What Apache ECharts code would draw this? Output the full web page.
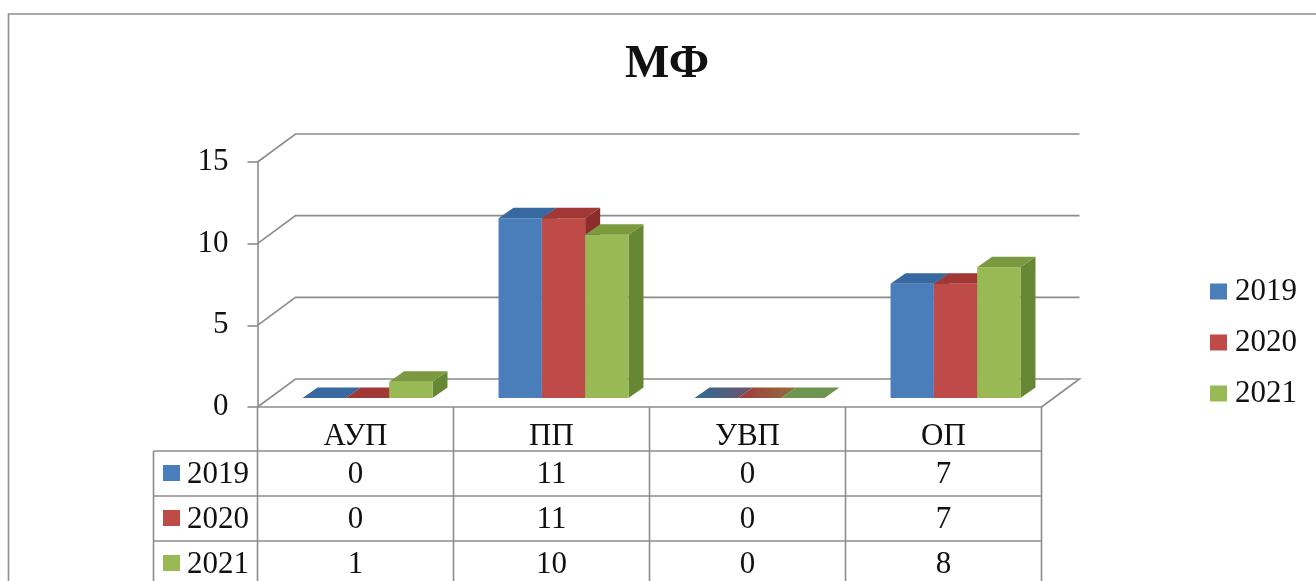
<!DOCTYPE html>
<html><head><meta charset="utf-8">
<style>html,body{margin:0;padding:0;background:#fff}#c{width:1316px;height:581px}</style>
<script src="https://cdn.jsdelivr.net/npm/echarts@6/dist/echarts.min.js"></script>
</head><body><div id="c"></div>
<script>
const categories = ['АУП','ПП','УВП','ОП'];
const years = ['2019','2020','2021'];
const v2019 = [0,11,0,7];
const v2020 = [0,11,0,7];
const v2021 = [1,10,0,8];
const yTicks = [0,5,10,15];
const seriesValues = [v2019,v2020,v2021];
const faceColors = ['#4a7ebb','#be4b48','#98b954'];
const topColors = ['#37689f','#a23836','#7b9a3f'];
const sideColors = ['#2f5a8c','#8a2d2b','#668733'];
const blendColors = ['#2f6d96','#6c5268','#a23a3a','#8f7040','#6d9550','#6d9550'];

const FONT = '"Liberation Serif","Times New Roman",serif';
const INK = '#111';
const LINE = '#8c8c8c';
const GRID = {left:257.5, top:162, width:784, height:245};
const WALL = {dx:38, dy:-28};
const BAR = {dx:12, dy:-9, depthX:15, depthY:-10.5, share:0.221};

const chart = echarts.init(document.getElementById('c'), null, {renderer:'canvas'});

function wallItem(params, api){
  const v = api.value(0);
  const y = api.coord([0, v])[1];
  const xL = GRID.left, xR = GRID.left + GRID.width;
  const pts = [[xL,y],[xL+WALL.dx,y+WALL.dy],[xR+WALL.dx,y+WALL.dy]];
  if (v === 0) pts.push([xR,y]);
  return {type:'polyline', shape:{points:pts}, style:{stroke:LINE,lineWidth:1.6,fill:null}, silent:true};
}

function barItem(s){
  return function(params, api){
    const i = api.value(0), v = api.value(1);
    const band = api.size([1,0])[0];
    const w = band*BAR.share;
    const c = api.coord([i, v]), b = api.coord([i, 0]);
    const x0 = c[0] - 1.5*w + s*w + BAR.dx, x1 = x0 + w;
    const yT = c[1] + BAR.dy, yB = b[1] + BAR.dy;
    const dx = BAR.depthX, dy = BAR.depthY;
    const poly = (pts, fill) => ({type:'polygon', shape:{points:pts}, style:{fill:fill}, silent:true});
    const children = [];
    if (v > 0) {
      children.push(poly([[x1,yT],[x1+dx,yT+dy],[x1+dx,yB+dy],[x1,yB]], sideColors[s]));
      children.push(poly([[x0,yT],[x1,yT],[x1,yB],[x0,yB]], faceColors[s]));
    }
    const allZero = seriesValues.every(a => a[i] === 0);
    const fill = allZero ? new echarts.graphic.LinearGradient(0,0,1,0,[
      {offset:0,color:blendColors[s*2]},
      {offset:1,color:blendColors[s*2+1]}
    ]) : topColors[s];
    children.push(poly([[x0,yT],[x0+dx,yT+dy],[x1+dx,yT+dy],[x1,yT]], fill));
    return {type:'group', children};
  };
}

/* data table and frame */
const tbl = {
  cols:[153.5,257.5,453.5,649.5,845.5,1041.5],
  rows:[451,496,541,586],
  rowText:[475,520,565],
};
const graphic = [];
const ln = (x1,y1,x2,y2) => graphic.push({type:'line',silent:true,z:1,shape:{x1,y1,x2,y2},style:{stroke:LINE,lineWidth:1.6}});
graphic.push({type:'polyline',silent:true,z:0,shape:{points:[[8.5,600],[8.5,14],[1320,14]]},style:{fill:null,stroke:'#8f8f8f',lineWidth:1.6}});
tbl.rows.forEach(y=>ln(153.5,y,1041.5,y));
ln(153.5,451,153.5,586);
tbl.cols.slice(1).forEach(x=>ln(x,407,x,586));
years.forEach((yr,r)=>{
  graphic.push({type:'rect',silent:true,z:2,shape:{x:163,y:tbl.rowText[r]-10,width:17,height:16},style:{fill:faceColors[r]}});
  graphic.push({type:'text',silent:true,z:2,x:187,y:tbl.rowText[r],style:{text:yr,font:'31px '+FONT,fill:INK,textAlign:'left',textVerticalAlign:'middle'}});
  seriesValues[r].forEach((v,c)=>{
    graphic.push({type:'text',silent:true,z:2,x:(tbl.cols[c+1]+tbl.cols[c+2])/2,y:tbl.rowText[r],style:{text:String(v),font:'31px '+FONT,fill:INK,textAlign:'center',textVerticalAlign:'middle'}});
  });
});

const option = {
  animation:false,
  backgroundColor:'#fff',
  textStyle:{fontFamily:FONT},
  title:{text:'МФ',left:662,top:36,textAlign:'center',textStyle:{fontFamily:FONT,fontSize:47,fontWeight:'bold',color:INK}},
  legend:{
    orient:'vertical',left:1205,top:271,icon:'rect',itemWidth:17,itemHeight:16,itemGap:20,
    selectedMode:false,data:years,
    textStyle:{fontFamily:FONT,fontSize:31,color:INK,padding:[0,0,0,3]}
  },
  grid:GRID,
  xAxis:{type:'category',data:categories,z:5,
    axisLine:{lineStyle:{color:LINE,width:1.6}},axisTick:{show:false},
    axisLabel:{margin:14,fontFamily:FONT,fontSize:31,color:INK}},
  yAxis:{type:'value',min:0,max:15,interval:5,z:5,
    splitLine:{show:false},
    axisLine:{show:true,lineStyle:{color:LINE,width:1.6}},
    axisTick:{show:true,length:10,lineStyle:{color:LINE,width:1.6}},
    axisLabel:{margin:29,fontFamily:FONT,fontSize:31,color:INK,verticalAlign:'middle',padding:[2,0,0,0],formatter:v=>yTicks.includes(v)?String(v):''}},
  graphic,
  series:[
    {type:'custom',name:'walls',coordinateSystem:'cartesian2d',z:2,silent:true,renderItem:wallItem,data:yTicks.map(v=>[v]),encode:{x:-1,y:0}},
    ...years.map((yr,s)=>({
      type:'custom',name:yr,coordinateSystem:'cartesian2d',z:3+s,silent:true,
      itemStyle:{color:faceColors[s]},
      renderItem:barItem(s),
      data:seriesValues[s].map((v,i)=>[i,v]),encode:{x:0,y:1}
    }))
  ]
};
chart.setOption(option);
</script></body></html>
